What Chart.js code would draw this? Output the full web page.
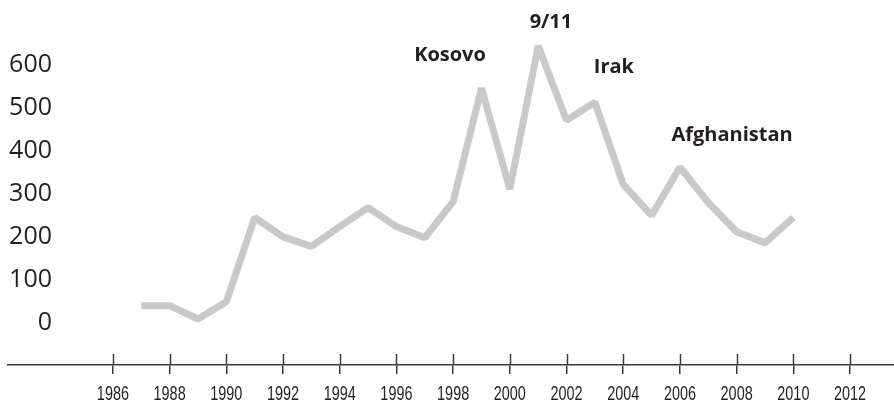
<!DOCTYPE html>
<html>
<head>
<meta charset="utf-8">
<script src="https://cdn.jsdelivr.net/npm/chart.js@4/dist/chart.umd.min.js"></script>
<style>
  html, body { margin: 0; padding: 0; background: #ffffff; }
  #wrap { width: 894px; height: 402px; position: relative; }
</style>
</head>
<body>
<div id="wrap"><canvas id="c" width="894" height="402"></canvas></div>
<script>
const years = [1987, 1988, 1989, 1990, 1991, 1992, 1993, 1994, 1995, 1996, 1997, 1998,
               1999, 2000, 2001, 2002, 2003, 2004, 2005, 2006, 2007, 2008, 2009, 2010];
const values = [38, 38, 7, 47, 243, 198, 176, 222, 266, 222, 196, 280,
                544, 309, 642, 469, 511, 320, 248, 360, 278, 210, 184, 243];
const xTickYears = [1986, 1988, 1990, 1992, 1994, 1996, 1998, 2000, 2002, 2004, 2006, 2008, 2010, 2012];
const yTickValues = [0, 100, 200, 300, 400, 500, 600];
const eventLabels = ['Kosovo', '9/11', 'Irak', 'Afghanistan'];
const eventYears = [1997.89, 2001.45, 2003.67, 2007.84];
const eventLevels = [621, 698, 593, 435];

const TEXT = '#231f20';

const overlay = {
  id: 'overlay',
  afterDraw(chart) {
    const ctx = chart.ctx;
    const xs = chart.scales.x, ys = chart.scales.y;
    const bottom = chart.chartArea.bottom;
    ctx.save();
    // upper halves of the x-axis tick marks
    ctx.strokeStyle = '#3a3a3a';
    ctx.lineWidth = 1.5;
    xs.ticks.forEach((t, i) => {
      const px = Math.round(xs.getPixelForTick(i)) + 0.5;
      ctx.beginPath();
      ctx.moveTo(px, bottom - 11);
      ctx.lineTo(px, bottom);
      ctx.stroke();
    });
    // x labels, condensed
    ctx.fillStyle = TEXT;
    ctx.font = '19.5px "Liberation Sans"';
    ctx.textAlign = 'center';
    ctx.textBaseline = 'alphabetic';
    xs.ticks.forEach((t, i) => {
      ctx.save();
      ctx.translate(xs.getPixelForTick(i), 400);
      ctx.scale(0.74, 1);
      ctx.fillText(String(t.value), 0, 0);
      ctx.restore();
    });
    // y value labels
    ctx.font = '25px "Open Sans"';
    ctx.textAlign = 'right';
    ctx.textBaseline = 'middle';
    yTickValues.forEach(v => {
      ctx.fillText(String(v), 52, ys.getPixelForValue(v) + 1);
    });
    // event labels
    ctx.font = 'bold 20px "Open Sans"';
    ctx.textAlign = 'center';
    eventLabels.forEach((t, i) => {
      ctx.fillText(t, xs.getPixelForValue(eventYears[i]), ys.getPixelForValue(eventLevels[i]));
    });
    ctx.restore();
  }
};

new Chart(document.getElementById('c'), {
  type: 'line',
  data: {
    datasets: [{
      data: years.map((y, i) => ({ x: y, y: values[i] })),
      borderColor: '#c8c9cb',
      borderWidth: 7,
      borderJoinStyle: 'bevel',
      borderCapStyle: 'butt',
      pointRadius: 0,
      tension: 0,
      fill: false
    }]
  },
  options: {
    responsive: false,
    animation: false,
    events: [],
    layout: { padding: { top: 21, left: 8, right: 0, bottom: 0 } },
    plugins: { legend: { display: false }, tooltip: { enabled: false } },
    scales: {
      x: {
        type: 'linear',
        min: 1982.3,
        max: 2013.55,
        afterBuildTicks: s => { s.ticks = xTickYears.map(v => ({ value: v })); },
        afterFit: s => { s.height = 37; },
        grid: { drawOnChartArea: false, drawTicks: true, tickLength: 9, color: '#3a3a3a', lineWidth: 1.5 },
        border: { display: true, color: '#3a3a3a', width: 1.5 },
        ticks: { display: false, autoSkip: false, callback: v => String(v) }
      },
      y: {
        display: false,
        min: -100,
        max: 700
      }
    }
  },
  plugins: [overlay]
});
</script>
</body>
</html>
